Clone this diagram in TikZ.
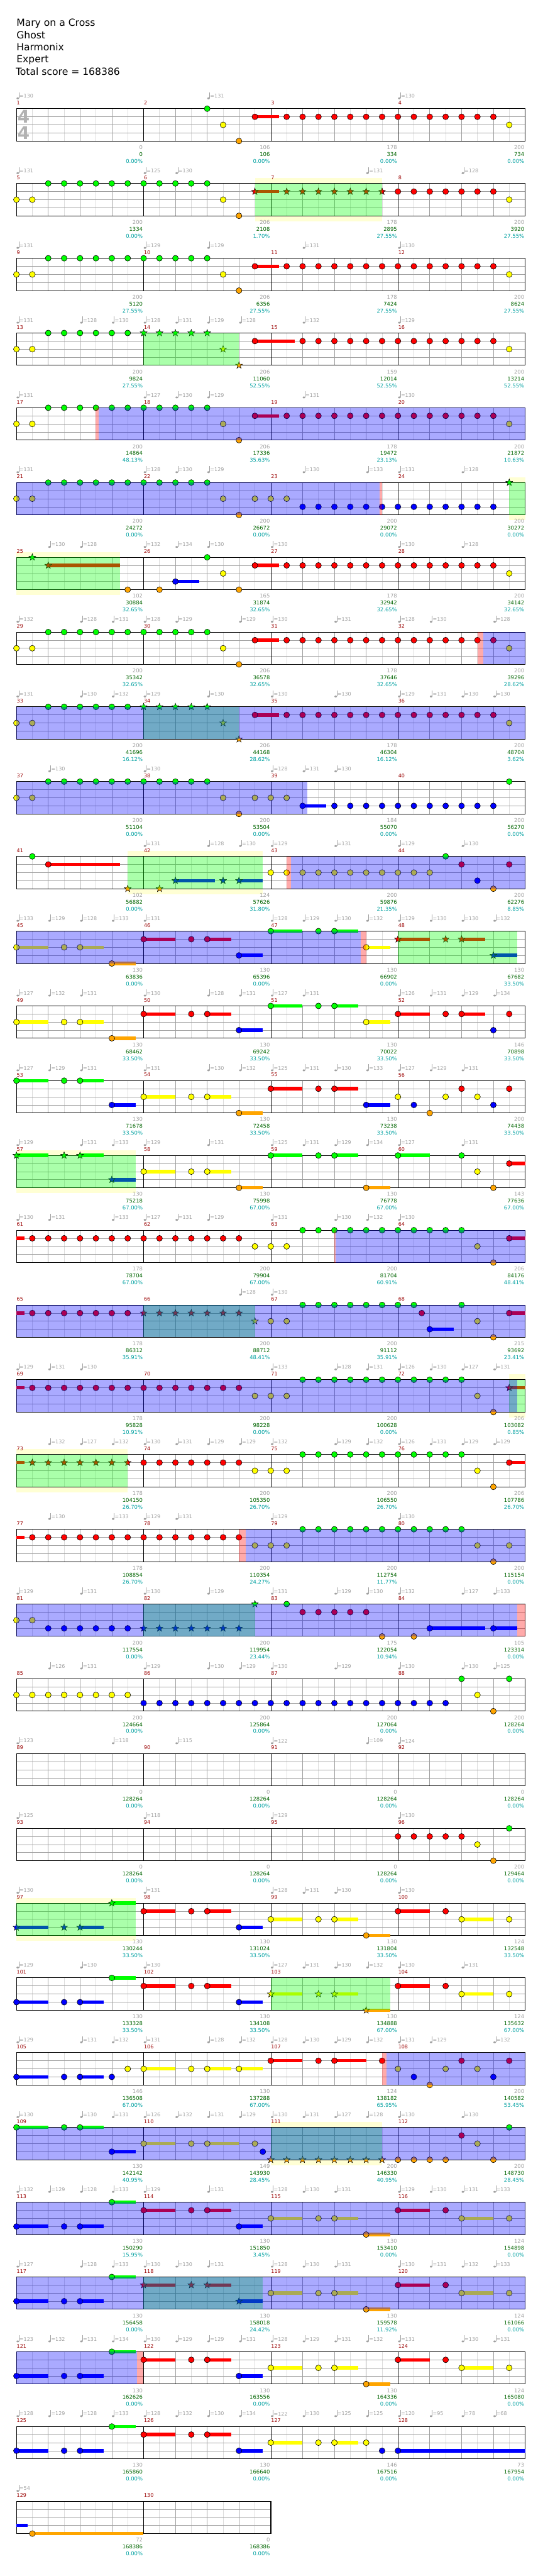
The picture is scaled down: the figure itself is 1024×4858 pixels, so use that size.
\documentclass[tikz,border=0pt]{standalone}
\usepackage{fontspec}
\setmainfont{DejaVu Sans}
\definecolor{c0}{HTML}{00FF00}
\definecolor{c1}{HTML}{FF0000}
\definecolor{c2}{HTML}{FFFF00}
\definecolor{c3}{HTML}{0000FF}
\definecolor{c4}{HTML}{FFA500}
\definecolor{tempogray}{HTML}{A0A0A0}
\definecolor{halfgray}{HTML}{DCDCDC}
\definecolor{measred}{HTML}{990000}
\definecolor{scoregreen}{HTML}{006400}
\definecolor{scorecyan}{HTML}{00A0A0}
\definecolor{glowyellow}{HTML}{FFFFD4}

\tikzset{
    row/.style={shift={(31,205+141*#1)}, x=30pt, y=-15.25pt},
    halfgrid/.style={draw=halfgray, line width=0.8pt},
    beatgrid/.style={draw=tempogray, line width=0.8pt},
    lanegrid/.style={draw=tempogray, line width=0.8pt},
    bargrid/.style={draw=black, line width=0.8pt},
    boxgrid/.style={draw=black, line width=1.2pt},
    hit/.style={draw=black, line width=0.7pt},
    sphit/.style={draw=black, line width=0.6pt},
    tail/.style={line width=6.5pt},
    measnum/.style={anchor=west, inner sep=0pt, xshift=0.5pt, text=measred, font=\fontsize{9.5}{11}\selectfont},
    tempotext/.style={anchor=west, inner sep=0pt, xshift=5.5pt, text=tempogray, font=\fontsize{9.5}{11}\selectfont},
    scorebase/.style={anchor=east, inner sep=0pt, xshift=-1.5pt, font=\fontsize{10}{12}\selectfont},
    sgray/.style={scorebase, text=tempogray},
    sgreen/.style={scorebase, text=scoregreen},
    scyan/.style={scorebase, text=scorecyan},
    timesig/.style={inner sep=0pt, text=black!30, font=\fontsize{33}{36}\selectfont\bfseries},
    titletext/.style={anchor=base west, inner sep=0pt, font=\fontsize{18.5}{22}\selectfont},
}

% staff of one row: first measure, length in eighths
\newcommand\staffrow[2]{%
  \fill[white] (0,0) rectangle (#2,4);
  \foreach \i in {1,3,...,#2} \draw[halfgrid] (\i,0) -- (\i,4);
  \foreach \i in {2,4,...,#2} \draw[beatgrid] (\i,0) -- (\i,4);
  \foreach \j in {1,2,3} \draw[lanegrid] (0,\j) -- (#2,\j);
  \foreach \i in {8,16,...,#2} \draw[bargrid] (\i,0) -- (\i,4);
  \draw[boxgrid] (0,0) rectangle (#2,4);
  \pgfmathtruncatemacro\lastm{#2/8-1}%
  \foreach \j in {0,...,\lastm}{%
    \pgfmathtruncatemacro\mnum{#1+\j}%
    \node[measnum] (m\mnum) at (8*\j,-0.72) {\mnum};}%
}
\newcommand\tempi[1]{\foreach \nx/\va in {#1}{%
  \fill[tempogray] (\nx,-1.574) ++(2.5pt,-4.5pt) ellipse[x radius=2.4pt, y radius=1.8pt];
  \draw[tempogray, line width=0.7pt] (\nx,-1.574) ++(4.6pt,-4.5pt) -- ++(0pt,11.5pt);
  \node[tempotext] (tp\nx) at (\nx,-1.574) {=\va};}}
\newcommand\hits[1]{\foreach \nx/\lane in {#1} \filldraw[hit, fill=c\lane] (\nx,\lane) circle[radius=5.5pt];}
\newcommand\hitrun[3]{\foreach \nx in {#1,...,#2} \filldraw[hit, fill=c#3] (\nx,#3) circle[radius=5.5pt];}
\newcommand\spstar[2]{\filldraw[sphit, fill=c#2] (#1,#2) +(90:6.8pt) -- +(126:2.8pt) -- +(162:6.8pt) -- +(198:2.8pt)
  -- +(234:6.8pt) -- +(270:2.8pt) -- +(306:6.8pt) -- +(342:2.8pt) -- +(18:6.8pt) -- +(54:2.8pt) -- cycle;}
\newcommand\sphits[1]{\foreach \nx/\lane in {#1} {\spstar{\nx}{\lane}}}
\newcommand\sprun[3]{\foreach \nx in {#1,...,#2} {\spstar{\nx}{#3}}}
\newcommand\tails[1]{\foreach \sa/\sb/\lane in {#1} \draw[tail, draw=c\lane] (\sa,\lane) -- (\sb,\lane);}
\newcommand\spglow[2]{\fill[glowyellow] (#1,-0.656) rectangle (#2,4.656);}
\newcommand\spfill[2]{\fill[green, fill opacity=0.333] (#1,0) rectangle (#2,4);}
\newcommand\odfill[2]{\fill[blue, fill opacity=0.333] (#1,0) rectangle (#2,4);}
\newcommand\whamfill[2]{\fill[red, fill opacity=0.333] (#1,0) rectangle (#2,4);}
\newcommand\scoreline[1]{\foreach \nx/\scg/\sct/\scp in {#1}{%
  \node[sgray] (sg\nx) at (\nx,4.787) {\scg};
  \node[sgreen] (st\nx) at (\nx,5.639) {\sct};
  \node[scyan] (sp\nx) at (\nx,6.492) {\scp\%};}}

\begin{document}
\begin{tikzpicture}[x=1pt, y=-1pt]
\useasboundingbox (0,0) rectangle (1024,4858);

% Song header
\node[titletext] (song) at (31,49.5) {Mary on a Cross};
\node[titletext] (artist) at (31,72.5) {Ghost};
\node[titletext] (charter) at (31,95.5) {Harmonix};
\node[titletext] (level) at (31,118.5) {Expert};
\node[titletext] (total) at (29.5,141.5) {Total score = 168386};

% Measures 1-4
\begin{scope}[row=0]
  \staffrow{1}{32}
  \node[timesig] (tsa) at (0.45,1) {4};
  \node[timesig] (tsb) at (0.45,3) {4};
  \tails{15/16.5/1}
  \hits{12/0,13/2,14/4,15/1,31/2}
  \hitrun{17}{30}{1}
  \tempi{0/130,12/131,24/130}
  \scoreline{8/0/0/0.00,16/106/106/0.00,24/178/334/0.00,32/200/734/0.00}
\end{scope}

% Measures 5-8
\begin{scope}[row=1]
  \spglow{15}{23}
  \staffrow{5}{32}
  \tails{15/16.5/1}
  \hits{0/2,1/2,13/2,14/4,31/2}
  \hitrun{2}{12}{0}
  \hitrun{24}{30}{1}
  \sphits{15/1}
  \sprun{17}{23}{1}
  \spfill{15}{23}
  \tempi{0/131,8/125,10/130,22/131,28/128}
  \scoreline{8/200/1334/0.00,16/206/2108/1.70,24/178/2895/27.55,32/200/3920/27.55}
\end{scope}

% Measures 9-12
\begin{scope}[row=2]
  \staffrow{9}{32}
  \tails{15/16.5/1}
  \hits{0/2,1/2,13/2,14/4,15/1,31/2}
  \hitrun{2}{12}{0}
  \hitrun{17}{30}{1}
  \tempi{0/131,8/129,12/129,18/131,24/130}
  \scoreline{8/200/5120/27.55,16/206/6356/27.55,24/178/7424/27.55,32/200/8624/27.55}
\end{scope}

% Measures 13-16
\begin{scope}[row=3]
  \staffrow{13}{32}
  \tails{15/17.5/1}
  \hits{0/2,1/2,15/1,31/2}
  \hitrun{2}{7}{0}
  \sprun{8}{12}{0}
  \sphits{13/2,14/4}
  \hitrun{18}{30}{1}
  \spfill{8}{14}
  \tempi{0/131,4/128,6/130,8/128,10/131,12/129,14/128,18/132,24/129}
  \scoreline{8/200/9824/27.55,16/206/11060/52.55,24/159/12014/52.55,32/200/13214/52.55}
\end{scope}

% Measures 17-20
\begin{scope}[row=4]
  \staffrow{17}{32}
  \tails{15/16.5/1}
  \hits{0/2,1/2,13/2,14/4,15/1,31/2}
  \hitrun{2}{12}{0}
  \hitrun{17}{30}{1}
  \whamfill{4.98}{5.16}
  \odfill{5.16}{32}
  \tempi{0/131,8/127,10/130,12/129,18/131,24/130}
  \scoreline{8/200/14864/48.13,16/206/17336/35.63,24/178/19472/23.13,32/200/21872/10.63}
\end{scope}

% Measures 21-24
\begin{scope}[row=5]
  \spglow{31}{32}
  \staffrow{21}{32}
  \hits{0/2,1/2,13/2,14/4,15/2,16/2,17/2}
  \hitrun{2}{12}{0}
  \hitrun{18}{30}{3}
  \sphits{31/0}
  \spfill{31}{32}
  \odfill{0}{22.83}
  \whamfill{22.83}{23}
  \tempi{0/131,8/128,10/130,12/129,18/130,22/133,24/131,28/128}
  \scoreline{8/200/24272/0.00,16/200/26672/0.00,24/200/29072/0.00,32/200/30272/0.00}
\end{scope}

% Measures 25-28
\begin{scope}[row=6]
  \spglow{0}{6.5}
  \staffrow{25}{32}
  \tails{2/6.5/1,10/11.5/3,15/16.5/1}
  \sphits{1/0,2/1}
  \hits{7/4,9/4,10/3,12/0,13/2,14/4,15/1,31/2}
  \hitrun{17}{30}{1}
  \spfill{0}{6.5}
  \tempi{2/130,4/128,8/132,10/134,12/130,16/130,24/130,28/128}
  \scoreline{8/102/30884/32.65,16/165/31874/32.65,24/178/32942/32.65,32/200/34142/32.65}
\end{scope}

% Measures 29-32
\begin{scope}[row=7]
  \staffrow{29}{32}
  \tails{15/16.5/1}
  \hits{0/2,1/2,13/2,14/4,15/1,31/2}
  \hitrun{2}{12}{0}
  \hitrun{17}{30}{1}
  \whamfill{29}{29.36}
  \odfill{29.36}{32}
  \tempi{0/132,4/128,6/131,8/128,10/129,14/129,16/130,20/131,24/128,26/130,30/128}
  \scoreline{8/200/35342/32.65,16/206/36578/32.65,24/178/37646/32.65,32/200/39296/28.62}
\end{scope}

% Measures 33-36
\begin{scope}[row=8]
  \staffrow{33}{32}
  \tails{15/16.5/1}
  \hits{0/2,1/2,15/1,31/2}
  \hitrun{2}{7}{0}
  \sprun{8}{12}{0}
  \sphits{13/2,14/4}
  \hitrun{17}{30}{1}
  \spfill{8}{14}
  \odfill{0}{32}
  \tempi{0/131,4/130,6/132,8/129,12/130,16/130,20/130,24/129,26/131,28/130,30/130}
  \scoreline{8/200/41696/16.12,16/206/44168/28.62,24/178/46304/16.12,32/200/48704/3.62}
\end{scope}

% Measures 37-40
\begin{scope}[row=9]
  \staffrow{37}{32}
  \tails{18/19.5/3}
  \hits{0/2,1/2,13/2,14/4,15/2,16/2,17/2,18/3,31/0}
  \hitrun{2}{12}{0}
  \hitrun{20}{30}{3}
  \odfill{0}{18.28}
  \tempi{2/130,8/130,16/128,18/131,20/130}
  \scoreline{8/200/51104/0.00,16/200/53504/0.00,24/184/55070/0.00,32/200/56270/0.00}
\end{scope}

% Measures 41-44
\begin{scope}[row=10]
  \spglow{7}{15.5}
  \staffrow{41}{32}
  \tails{2/6.5/1,10/12.5/3,14/15.5/3}
  \hits{1/0,2/1,16/2,17/2,27/0,28/1,29/3,30/4,31/1}
  \sphits{7/4,9/4,10/3,13/3,14/3}
  \hitrun{18}{26}{2}
  \spfill{7}{15.5}
  \whamfill{17}{17.28}
  \odfill{17.28}{32}
  \tempi{8/131,12/128,14/130,16/129,20/131,24/129,28/130}
  \scoreline{8/102/56882/0.00,16/124/57626/31.80,24/200/59876/21.35,32/200/62276/8.85}
\end{scope}

% Measures 45-48
\begin{scope}[row=11]
  \staffrow{45}{32}
  \tails{0/2/2,4/5.5/2,6/7.5/4,8/10/1,12/13.5/1,14/15.5/3,16/18/0,20/21.5/0,22/23.5/2,24/26/1,28/29.5/1,30/31.5/3}
  \hits{0/2,3/2,4/2,6/4,8/1,11/1,12/1,14/3,16/0,19/0,20/0,22/2}
  \sphits{24/1,27/1,28/1,30/3}
  \spfill{24}{31.5}
  \odfill{0}{21.66}
  \whamfill{21.66}{22}
  \tempi{0/133,2/129,4/128,6/133,8/131,16/128,18/129,20/130,22/132,24/129,26/130,28/130,30/132}
  \scoreline{8/130/63836/0.00,16/130/65396/0.00,24/130/66902/0.00,32/130/67682/33.50}
\end{scope}

% Measures 49-52
\begin{scope}[row=12]
  \staffrow{49}{32}
  \tails{0/2/2,4/5.5/2,6/7.5/4,8/10/1,12/13.5/1,14/15.5/3,16/18/0,20/21.5/0,22/23.5/2,24/26/1,28/29.5/1}
  \hits{0/2,3/2,4/2,6/4,8/1,11/1,12/1,14/3,16/0,19/0,20/0,22/2,24/1,27/1,28/1,30/3,31/1}
  \tempi{0/127,2/132,4/131,8/130,12/128,14/131,16/127,18/131,24/126,26/131,28/129,30/134}
  \scoreline{8/130/68462/33.50,16/130/69242/33.50,24/130/70022/33.50,32/146/70898/33.50}
\end{scope}

% Measures 53-56
\begin{scope}[row=13]
  \staffrow{53}{32}
  \tails{0/2/0,4/5.5/0,6/7.5/3,8/10/2,12/13.5/2,14/15.5/4,16/18/1,20/21.5/1,22/23.5/3}
  \hits{0/0,3/0,4/0,6/3,8/2,11/2,12/2,14/4,16/1,19/1,20/1,22/3,24/2,25/3,26/4,27/2,28/1,29/2,30/3,31/1}
  \tempi{0/127,2/129,4/131,8/131,12/130,14/132,16/125,18/131,20/130,22/133,24/127,26/129,28/131}
  \scoreline{8/130/71678/33.50,16/130/72458/33.50,24/130/73238/33.50,32/200/74438/33.50}
\end{scope}

% Measures 57-60
\begin{scope}[row=14]
  \spglow{0}{7.5}
  \staffrow{57}{32}
  \tails{0/2/0,4/5.5/0,6/7.5/3,8/10/2,12/13.5/2,14/15.5/4,16/18/0,20/21.5/0,22/23.5/4,24/26/0,31/32/1}
  \sphits{0/0,3/0,4/0,6/3}
  \hits{8/2,11/2,12/2,14/4,16/0,19/0,20/0,22/4,24/0,28/0,29/2,30/4,31/1}
  \spfill{0}{7.5}
  \tempi{0/129,4/131,6/133,8/129,12/131,16/125,18/131,20/129,22/134,24/127,28/131}
  \scoreline{8/130/75218/67.00,16/130/75998/67.00,24/130/76778/67.00,32/143/77636/67.00}
\end{scope}

% Measures 61-64
\begin{scope}[row=15]
  \staffrow{61}{32}
  \tails{0/0.5/1,31/32/1}
  \hitrun{1}{14}{1}
  \hits{15/2,16/2,17/2,29/2,30/4,31/1}
  \hitrun{18}{28}{0}
  \whamfill{20}{20.07}
  \odfill{20.07}{32}
  \tempi{0/130,2/131,6/133,8/127,10/131,12/129,16/131,20/130,22/132,24/130}
  \scoreline{8/178/78704/67.00,16/200/79904/67.00,24/200/81704/60.91,32/206/84176/48.41}
\end{scope}

% Measures 65-68
\begin{scope}[row=16]
  \staffrow{65}{32}
  \tails{0/0.5/1,26/27.5/3,31/32/1}
  \hitrun{1}{7}{1}
  \sprun{8}{14}{1}
  \sphits{15/2}
  \hits{16/2,17/2,25.5/1,26/3,28/0,29/2,30/4,31/1}
  \hitrun{18}{25}{0}
  \spfill{8}{15}
  \odfill{0}{32}
  \tempi{14/128,16/130}
  \scoreline{8/178/86312/35.91,16/200/88712/48.41,24/200/91112/35.91,32/215/93692/23.41}
\end{scope}

% Measures 69-72
\begin{scope}[row=17]
  \spglow{31}{32}
  \staffrow{69}{32}
  \tails{0/0.5/1,31/32/1}
  \hitrun{1}{14}{1}
  \hits{15/2,16/2,17/2,29/2,30/4}
  \hitrun{18}{28}{0}
  \sphits{31/1}
  \spfill{31}{32}
  \odfill{0}{31.5}
  \tempi{0/129,2/131,4/130,16/133,20/128,22/131,24/126,26/130,28/127,30/131}
  \scoreline{8/178/95828/10.91,16/200/98228/0.00,24/200/100628/0.00,32/206/103082/0.85}
\end{scope}

% Measures 73-76
\begin{scope}[row=18]
  \spglow{0}{7}
  \staffrow{73}{32}
  \tails{0/0.5/1,31/32/1}
  \sprun{1}{7}{1}
  \hitrun{8}{14}{1}
  \hits{15/2,16/2,17/2,29/2,30/4,31/1}
  \hitrun{18}{28}{0}
  \spfill{0}{7}
  \tempi{2/132,4/127,6/132,8/130,10/131,12/129,14/129,16/132,20/129,22/132,24/126,26/131,28/129,30/129}
  \scoreline{8/178/104150/26.70,16/200/105350/26.70,24/200/106550/26.70,32/206/107786/26.70}
\end{scope}

% Measures 77-80
\begin{scope}[row=19]
  \staffrow{77}{32}
  \tails{0/0.5/1}
  \hitrun{1}{14}{1}
  \hits{15/2,16/2,17/2,29/2,30/4,31/2}
  \hitrun{18}{28}{0}
  \whamfill{14}{14.41}
  \odfill{14.41}{32}
  \tempi{2/130,6/133,8/129,10/131,16/129,24/130}
  \scoreline{8/178/108854/26.70,16/200/110354/24.27,24/200/112754/11.77,32/200/115154/0.00}
\end{scope}

% Measures 81-84
\begin{scope}[row=20]
  \staffrow{81}{32}
  \tails{26/29.5/3,30/31.5/3}
  \hits{0/2,1/2,17/0,23/4,25/4,26/3,30/3}
  \hitrun{2}{7}{3}
  \sprun{8}{14}{3}
  \sphits{15/0}
  \hitrun{18}{22}{1}
  \spfill{8}{15}
  \odfill{0}{31.5}
  \whamfill{31.5}{32}
  \tempi{0/129,4/131,8/130,12/129,16/131,20/129,22/130,24/132,28/127,30/133}
  \scoreline{8/200/117554/0.00,16/200/119954/23.44,24/175/122054/10.94,32/105/123314/0.00}
\end{scope}

% Measures 85-88
\begin{scope}[row=21]
  \staffrow{85}{32}
  \hitrun{0}{7}{2}
  \hitrun{8}{27}{3}
  \hits{28/0,29/2,30/4,31/0}
  \tempi{2/126,4/131,8/129,12/130,14/129,16/130,20/129,24/130,28/130,30/125}
  \scoreline{8/200/124664/0.00,16/200/125864/0.00,24/200/127064/0.00,32/200/128264/0.00}
\end{scope}

% Measures 89-92
\begin{scope}[row=22]
  \staffrow{89}{32}
  \tempi{0/123,6/118,10/115,16/122,22/109,24/124}
  \scoreline{8/0/128264/0.00,16/0/128264/0.00,24/0/128264/0.00,32/0/128264/0.00}
\end{scope}

% Measures 93-96
\begin{scope}[row=23]
  \staffrow{93}{32}
  \hitrun{24}{28}{1}
  \hits{29/2,30/4,31/0}
  \tempi{0/125,8/118,16/129,24/130}
  \scoreline{8/0/128264/0.00,16/0/128264/0.00,24/0/128264/0.00,32/200/129464/0.00}
\end{scope}

% Measures 97-100
\begin{scope}[row=24]
  \spglow{0}{7.5}
  \staffrow{97}{32}
  \tails{0/2/3,4/5.5/3,6/7.5/0,8/10/1,12/13.5/1,14/15.5/3,16/18/2,20/21.5/2,22/23.5/4,24/26/1,28/30/2}
  \sphits{0/3,3/3,4/3,6/0}
  \hits{8/1,11/1,12/1,14/3,16/2,19/2,20/2,22/4,24/1,27/1,28/2,31/2}
  \spfill{0}{7.5}
  \tempi{0/130,8/131,16/128,18/131,20/130,24/130}
  \scoreline{8/130/130244/33.50,16/130/131024/33.50,24/130/131804/33.50,32/124/132548/33.50}
\end{scope}

% Measures 101-104
\begin{scope}[row=25]
  \staffrow{101}{32}
  \tails{0/2/3,4/5.5/3,6/7.5/0,8/10/1,12/13.5/1,14/15.5/3,16/18/2,20/21.5/2,22/23.5/4,24/26/1,28/30/2}
  \hits{0/3,3/3,4/3,6/0,8/1,11/1,12/1,14/3,24/1,27/1,28/2,31/2}
  \sphits{16/2,19/2,20/2,22/4}
  \spfill{16}{23.5}
  \tempi{0/129,4/130,8/130,16/127,18/131,20/130,22/132,24/130,28/131}
  \scoreline{8/130/133328/33.50,16/130/134108/33.50,24/130/134888/67.00,32/124/135632/67.00}
\end{scope}

% Measures 105-108
\begin{scope}[row=26]
  \staffrow{105}{32}
  \tails{0/2/3,4/5.5/3,8/10/2,12/13.5/2,14/15.5/2,16/18/1,20/22/1}
  \hits{0/3,3/3,4/3,6/3,7/2,8/2,11/2,12/2,14/2,16/1,19/1,20/1,23/1,24/2,25/3,26/4,27/2,28/1,29/2,30/3,31/1}
  \whamfill{23}{23.27}
  \odfill{23.27}{32}
  \tempi{0/129,4/131,6/132,8/131,12/128,14/132,16/128,18/130,20/129,22/132,24/131,26/129,30/132}
  \scoreline{8/146/136508/67.00,16/130/137288/67.00,24/124/138182/65.95,32/200/140582/53.45}
\end{scope}

% Measures 109-112
\begin{scope}[row=27]
  \spglow{16}{23}
  \staffrow{109}{32}
  \tails{0/2/0,4/5.5/0,6/7.5/3,8/10/2,12/14/2}
  \hits{0/0,3/0,4/0,6/3,8/2,11/2,12/2,15/2,15.5/3,28/1,29/2,30/4,31/0}
  \sprun{16}{23}{4}
  \hitrun{24}{27}{4}
  \spfill{16}{23}
  \odfill{0}{32}
  \tempi{0/130,4/130,6/131,8/126,10/132,12/131,14/129,16/130,18/131,20/127,22/128,24/130,28/130}
  \scoreline{8/130/142142/40.95,16/149/143930/28.45,24/200/146330/40.95,32/200/148730/28.45}
\end{scope}

% Measures 113-116
\begin{scope}[row=28]
  \staffrow{113}{32}
  \tails{0/2/3,4/5.5/3,6/7.5/0,8/10/1,12/13.5/1,14/15.5/3,16/18/2,20/21.5/2,22/23.5/4,24/26/1,28/30/2}
  \hits{0/3,3/3,4/3,6/0,8/1,11/1,12/1,14/3,16/2,19/2,20/2,22/4,24/1,27/1,28/2,31/2}
  \odfill{0}{32}
  \tempi{0/132,2/129,4/128,6/133,8/129,12/131,16/128,18/130,20/131,24/129,26/130,28/131,30/133}
  \scoreline{8/130/150290/15.95,16/130/151850/3.45,24/130/153410/0.00,32/124/154898/0.00}
\end{scope}

% Measures 117-120
\begin{scope}[row=29]
  \staffrow{117}{32}
  \tails{0/2/3,4/5.5/3,6/7.5/0,8/10/1,12/13.5/1,14/15.5/3,16/18/2,20/21.5/2,22/23.5/4,24/26/1,28/30/2}
  \hits{0/3,3/3,4/3,6/0,16/2,19/2,20/2,22/4,24/1,27/1,28/2,31/2}
  \sphits{8/1,11/1,12/1,14/3}
  \spfill{8}{15.5}
  \odfill{0}{32}
  \tempi{0/127,4/128,6/133,8/130,10/130,12/131,16/128,18/130,20/131,24/130,26/131,28/132,30/133}
  \scoreline{8/130/156458/0.00,16/130/158018/24.42,24/130/159578/11.92,32/124/161066/0.00}
\end{scope}

% Measures 121-124
\begin{scope}[row=30]
  \staffrow{121}{32}
  \tails{0/2/3,4/5.5/3,6/7.5/0,8/10/1,12/13.5/1,14/15.5/3,16/18/2,20/21.5/2,22/23.5/4,24/26/1,28/30/2}
  \hits{0/3,3/3,4/3,6/0,8/1,11/1,12/1,14/3,16/2,19/2,20/2,22/4,24/1,27/1,28/2,31/2}
  \odfill{0}{7.6}
  \whamfill{7.6}{8}
  \tempi{0/123,2/132,4/131,6/134,8/130,10/129,12/129,14/131,16/128,18/129,20/131,22/132,24/131,28/130,30/131}
  \scoreline{8/130/162626/0.00,16/130/163556/0.00,24/130/164336/0.00,32/124/165080/0.00}
\end{scope}

% Measures 125-128
\begin{scope}[row=31]
  \staffrow{125}{32}
  \tails{0/2/3,4/5.5/3,6/7.5/0,8/10/1,12/13.5/1,14/15.5/3,16/18/2,20/21.5/2,24/32/3}
  \hits{0/3,3/3,4/3,6/0,8/1,11/1,12/1,14/3,16/2,19/2,20/2,22/2,23/3,24/3}
  \tempi{0/128,2/129,4/128,6/133,8/128,10/132,12/130,14/134,16/122,18/130,20/125,22/125,24/120,26/95,28/78,30/68}
  \scoreline{8/130/165860/0.00,16/130/166640/0.00,24/146/167516/0.00,32/73/167954/0.00}
\end{scope}

% Measures 129-130
\begin{scope}[row=32]
  \staffrow{129}{16}
  \tails{0/0.7/3,1/8/4}
  \hits{1/4}
  \tempi{0/54}
  \scoreline{8/72/168386/0.00,16/0/168386/0.00}
\end{scope}

\end{tikzpicture}
\end{document}
